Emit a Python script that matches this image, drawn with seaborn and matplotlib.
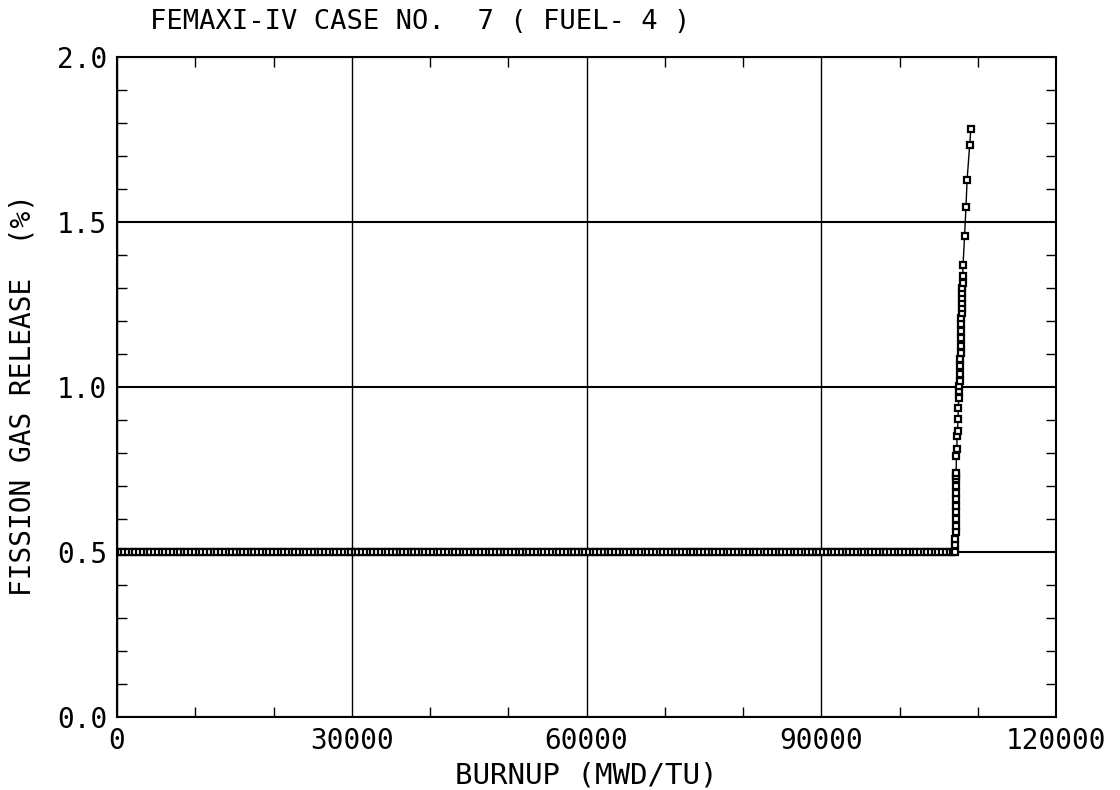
import matplotlib
matplotlib.use("Agg")
import matplotlib.pyplot as plt
import seaborn as sns
import pandas as pd
from matplotlib.ticker import MultipleLocator

# ---- data ----
flat_burnup = [0, 450, 950, 1400, 1900, 2350, 2850, 3300, 3800, 4250, 4750, 5200,
               5700, 6150, 6650, 7100, 7600, 8050, 8550, 9000, 9500, 9950, 10450,
               10900, 11400, 11850, 12350, 12800, 13300, 13750, 14250, 14700, 15200,
               15650, 16150, 16600, 17100, 17550, 18050, 18500, 19000, 19450, 19950,
               20400, 20900, 21350, 21850, 22300, 22800, 23250, 23750, 24200, 24700,
               25150, 25650, 26100, 26600, 27050, 27550, 28000, 28500, 28950, 29450,
               29900, 30400, 30850, 31350, 31800, 32300, 32750, 33250, 33700, 34200,
               34650, 35150, 35600, 36100, 36550, 37050, 37500, 38000, 38450, 38950,
               39400, 39900, 40350, 40850, 41300, 41800, 42250, 42750, 43200, 43700,
               44150, 44650, 45100, 45600, 46050, 46550, 47000, 47500, 47950, 48450,
               48900, 49400, 49850, 50350, 50800, 51300, 51750, 52250, 52700, 53200,
               53650, 54150, 54600, 55100, 55550, 56050, 56500, 57000, 57450, 57950,
               58400, 58900, 59350, 59850, 60300, 60800, 61250, 61750, 62200, 62700,
               63150, 63650, 64100, 64600, 65050, 65550, 66000, 66500, 66950, 67450,
               67900, 68400, 68850, 69350, 69800, 70300, 70750, 71250, 71700, 72200,
               72650, 73150, 73600, 74100, 74550, 75050, 75500, 76000, 76450, 76950,
               77400, 77900, 78350, 78850, 79300, 79800, 80250, 80750, 81200, 81700,
               82150, 82650, 83100, 83600, 84050, 84550, 85000, 85500, 85950, 86450,
               86900, 87400, 87850, 88350, 88800, 89300, 89750, 90250, 90700, 91200,
               91650, 92150, 92600, 93100, 93550, 94050, 94500, 95000, 95450, 95950,
               96400, 96900, 97350, 97850, 98300, 98800, 99250, 99750, 100200, 100700,
               101150, 101650, 102100, 102600, 103050, 103550, 104000, 104500, 104950,
               105450, 105900, 106400, 106800, 107100]
flat_release = [0.50] * len(flat_burnup)

bar_burnup = [107120, 107130, 107140, 107150, 107160, 107170, 107180, 107190,
              107200, 107210, 107220, 107230, 107240]
bar_release = [0.52, 0.54, 0.56, 0.58, 0.60, 0.62, 0.64, 0.66, 0.68, 0.70,
               0.72, 0.73, 0.74]

rise_burnup = [107250, 107300, 107350, 107400, 107450, 107500, 107550, 107600,
               107620, 107650, 107700, 107720, 107750, 107780, 107800, 107830,
               107860, 107880, 107900, 107920, 107940, 107960, 107980, 108000,
               108020, 108040, 108060, 108100, 108300, 108480, 108620, 108950,
               109100]
rise_release = [0.792, 0.813, 0.852, 0.867, 0.903, 0.937, 0.967, 0.988,
                1.003, 1.018, 1.039, 1.063, 1.085, 1.103, 1.124, 1.148,
                1.169, 1.190, 1.208, 1.224, 1.239, 1.254, 1.269, 1.284,
                1.299, 1.314, 1.335, 1.369, 1.459, 1.547, 1.628, 1.734,
                1.782]

x_ticks = [0, 30000, 60000, 90000, 120000]
y_ticks = [0.0, 0.5, 1.0, 1.5, 2.0]
title_text = "FEMAXI-IV CASE NO.  7 ( FUEL- 4 )"
x_label = "BURNUP (MWD/TU)"
y_label = "FISSION GAS RELEASE  (%)"

df = pd.DataFrame({
    "burnup": flat_burnup + bar_burnup + rise_burnup,
    "release": flat_release + bar_release + rise_release,
})

sns.set_style("white")
plt.rcParams["font.family"] = ["DejaVu Sans Mono", "DejaVu Sans"]

fig = plt.figure(figsize=(11.2, 7.9), dpi=100)
ax = fig.add_axes([0.1045, 0.0924, 0.8385, 0.8354])

sns.lineplot(data=df, x="burnup", y="release", sort=False, ax=ax,
             color="black", linewidth=1.0, marker="s", markersize=4.0,
             markerfacecolor="white", markeredgecolor="black",
             markeredgewidth=1.6, estimator=None, zorder=3)

ax.set_xlim(0, 120000)
ax.set_ylim(0.0, 2.0)
ax.set_xticks(x_ticks)
ax.set_yticks(y_ticks)
ax.set_xticklabels([str(v) for v in x_ticks])
ax.set_yticklabels([f"{v:.1f}" for v in y_ticks])
ax.xaxis.set_minor_locator(MultipleLocator(10000))
ax.yaxis.set_minor_locator(MultipleLocator(0.1))
ax.tick_params(which="both", direction="in", top=True, right=True,
               bottom=True, left=True, color="black")
ax.tick_params(which="major", length=0, labelsize=20, pad=7,
               labelcolor="black")
ax.tick_params(which="minor", length=7, width=1.0)
ax.xaxis.grid(True, which="major", color="black", linewidth=1.0)
ax.yaxis.grid(True, which="major", color="black", linewidth=1.5)
for s in ax.spines.values():
    s.set_color("black")
    s.set_linewidth(1.5)

ax.set_xlabel(x_label, fontsize=21, color="black", va="center")
ax.set_ylabel(y_label, fontsize=20, color="black", va="center")
ax.xaxis.set_label_coords(0.50, -0.088)
ax.yaxis.set_label_coords(-0.101, 0.488)
fig.text(150 / 1120, 1 - 22 / 790, title_text, fontsize=19.5,
         ha="left", va="center", color="black")

fig.savefig("out.png", dpi=100)
